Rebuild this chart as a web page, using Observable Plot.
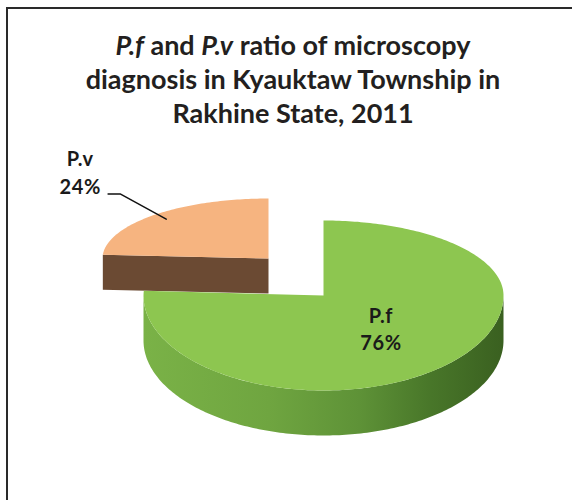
<!DOCTYPE html>
<html><head><meta charset="utf-8">
<script src="https://cdn.jsdelivr.net/npm/d3@7"></script>
<script src="https://cdn.jsdelivr.net/npm/@observablehq/plot@0.6"></script>
<style>
body{margin:0;background:#fff;width:572px;height:500px;overflow:hidden;position:relative;font-family:Lato,sans-serif}
#frame{position:absolute;left:6px;top:7px;width:700px;height:700px;border-left:2.5px solid #2a2a2a;border-top:2.5px solid #2a2a2a}
#title{position:absolute;left:0;top:28px;width:586px;text-align:center;font-weight:700;font-size:27px;line-height:34px;color:#231f20}
#chart{position:absolute;left:0;top:130px}
#chart text{letter-spacing:0.6px}
</style></head><body>
<div id="frame"></div>
<div id="title"><i>P.f</i> and <i>P.v</i> ratio of microscopy<br>diagnosis in Kyauktaw Township in<br>Rakhine State, 2011</div>
<div id="chart"></div>
<script>
// ---- data ----
const species = ["P.f", "P.v"];
const percents = [76, 24];
const percentLabels = ["76%", "24%"];

// ---- layout / style ----
const W = 572, H = 370, cx = 323, cy = 165, R = 180;
const topColors = ["#8dc650", "#f6b480"];
const sideColors = ["url(#gSide)", "#6b4a33"];
const slicesStyle = [
  {ox: 0, oy: 0, s: 1, tb: 75 / 180, tf: 95 / 180, depth: 45 / 180},
  {ox: -55 / 180, oy: 37 / 180, s: 166 / 180, tb: 60 / 166, tf: 60 / 166, depth: 35 / 180}
];

const arcs = d3.pie().sort(null).value(d => d)(percents);
function proj(p, a, r, z) {
  const c = Math.cos(a);
  return {x: p.ox + r * Math.sin(a) * p.s, y: p.oy + r * c * (c > 0 ? p.tb : p.tf) * p.s - z};
}
function arcPts(p, a0, a1, r, z) {
  const n = Math.max(2, Math.ceil(Math.abs(a1 - a0) / (Math.PI / 180)));
  return d3.range(n + 1).map(i => proj(p, a0 + (a1 - a0) * i / n, r, z));
}

const tops = [], sides = [];
arcs.forEach((arc, i) => {
  const p = slicesStyle[i];
  const a0 = arc.startAngle, a1 = arc.endAngle;
  [proj(p, 0, 0, 0), ...arcPts(p, a0, a1, 1, 0)].forEach(pt => tops.push({...pt, k: species[i]}));
  const side = [];
  const f0 = Math.max(a0, Math.PI / 2), f1 = Math.min(a1, 3 * Math.PI / 2);
  if (f1 > f0) {
    side.push(...arcPts(p, f0, f1, 1, 0), ...arcPts(p, f1, f0, 1, p.depth));
  } else {
    const a = a0;
    side.push(proj(p, a, 0, 0), proj(p, a, 1, 0), proj(p, a, 1, p.depth), proj(p, a, 0, p.depth));
  }
  side.forEach(pt => sides.push({...pt, k: species[i]}));
});

// labels
const pfMid = (arcs[0].startAngle + arcs[0].endAngle) / 2;
const pvMid = (arcs[1].startAngle + arcs[1].endAngle) / 2;
const pfLab = proj(slicesStyle[0], pfMid, 0.47, 0);
const pvEnd = proj(slicesStyle[1], pvMid, 0.9, 0);
const pvElbow = {x: pvEnd.x - 0.256, y: pvEnd.y + 0.14};
const pvStart = {x: pvElbow.x - 0.067, y: pvElbow.y};
const pvLab = {x: pvEnd.x - 0.475, y: pvEnd.y + 0.265};
const labels = [
  {...pfLab, t: species[0] + "\n" + percentLabels[0], dy: 4},
  {...pvLab, t: species[1] + "\n" + percentLabels[1], dy: 0}
];

const defs = () => {
  const d = d3.create("svg:defs");
  const g = d.append("linearGradient").attr("id", "gSide").attr("x1", 0).attr("x2", 1).attr("y1", 0).attr("y2", 0);
  [[0, "#7ab247"], [0.35, "#6fa540"], [0.6, "#5e9237"], [0.8, "#487629"], [1, "#3a6020"]]
    .forEach(([o, c]) => g.append("stop").attr("offset", o).attr("stop-color", c));
  return d.node();
};

const byK = (rows, k) => rows.filter(r => r.k === k);
const chart = Plot.plot({
  width: W, height: H,
  margin: 0,
  x: {domain: [-cx / R, (W - cx) / R], axis: null},
  y: {domain: [-(H - cy) / R, cy / R], axis: null},
  marks: [
    defs,
    Plot.line(byK(sides, "P.v"), {x: "x", y: "y", fill: sideColors[1], stroke: null}),
    Plot.line(byK(tops, "P.v"), {x: "x", y: "y", fill: topColors[1], stroke: null}),
    Plot.line(byK(sides, "P.f"), {x: "x", y: "y", fill: sideColors[0], stroke: null}),
    Plot.line(byK(tops, "P.f"), {x: "x", y: "y", fill: topColors[0], stroke: null}),
    Plot.line([pvStart, pvElbow, pvEnd], {x: "x", y: "y", stroke: "#111", strokeWidth: 1.5}),
    Plot.text(labels, {x: "x", y: "y", text: "t", dy: "dy", fontSize: 20, fontWeight: "bold", lineHeight: 1.38, fill: "#1a1a1a", fontFamily: "Lato"})
  ]
});
document.getElementById("chart").append(chart);
</script>
</body></html>
